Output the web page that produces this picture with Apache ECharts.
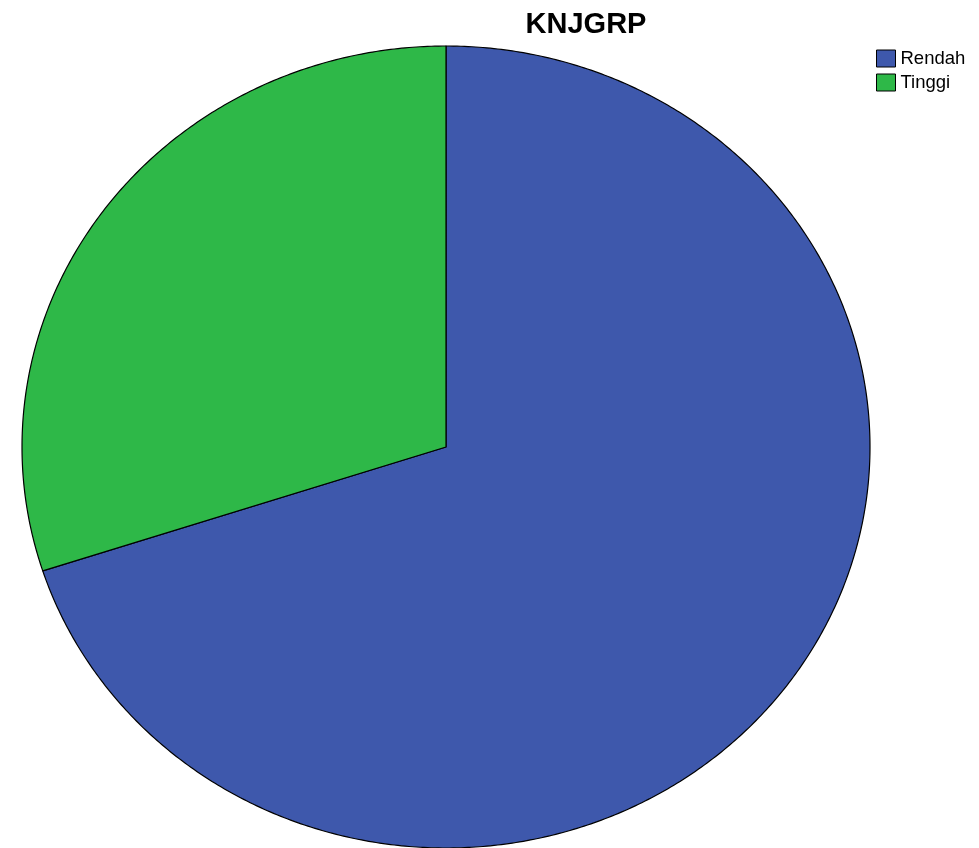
<!DOCTYPE html>
<html>
<head>
<meta charset="utf-8">
<script src="https://cdn.jsdelivr.net/npm/echarts@6/dist/echarts.min.js"></script>
<style>html,body{margin:0;padding:0;background:#fff}#c{width:979px;height:848px}</style>
</head>
<body>
<div id="c"></div>
<script>
const categories = ['Rendah', 'Tinggi'];
const values = [70, 30];
const colors = ['#3E58AC', '#2EB848'];

const total = values.reduce((a, b) => a + b, 0);
const CX = 446, CY = 447, RX = 424, RY = 401;

function makeRender(idx) {
  return function (params, api) {
    let before = 0;
    for (let i = 0; i < idx; i++) before += values[i];
    const v = api.value(0);
    const a0 = 2 * Math.PI * before / total;
    const a1 = 2 * Math.PI * (before + v) / total;
    const n = Math.max(2, Math.ceil((a1 - a0) / (Math.PI / 360)));
    const pts = [[CX, CY]];
    for (let k = 0; k <= n; k++) {
      const t = a0 + (a1 - a0) * k / n;
      pts.push([CX + RX * Math.sin(t), CY - RY * Math.cos(t)]);
    }
    return {
      type: 'polygon',
      shape: { points: pts },
      style: { fill: colors[idx], stroke: '#000', lineWidth: 1.2, lineJoin: 'round' }
    };
  };
}

const chart = echarts.init(document.getElementById('c'), null, { renderer: 'canvas' });
chart.setOption({
  animation: false,
  title: {
    text: 'KNJGRP',
    left: 586, top: 10, textAlign: 'center', padding: 0,
    textStyle: { fontFamily: 'Liberation Sans, Arial, sans-serif', fontSize: 29, fontWeight: 'bold', color: '#000' }
  },
  legend: {
    orient: 'vertical', left: 876, top: 49, padding: 0,
    itemWidth: 19, itemHeight: 17, itemGap: 5,
    icon: 'rect',
    data: categories,
    itemStyle: { borderColor: '#000', borderWidth: 1 },
    textStyle: { fontFamily: 'Liberation Sans, Arial, sans-serif', fontSize: 18.5, color: '#000' },
    selectedMode: false
  },
  series: categories.map((name, i) => ({
    type: 'custom',
    name: name,
    coordinateSystem: 'none',
    itemStyle: { color: colors[i] },
    data: [[values[i]]],
    renderItem: makeRender(i),
    silent: true
  }))
});
</script>
</body>
</html>
